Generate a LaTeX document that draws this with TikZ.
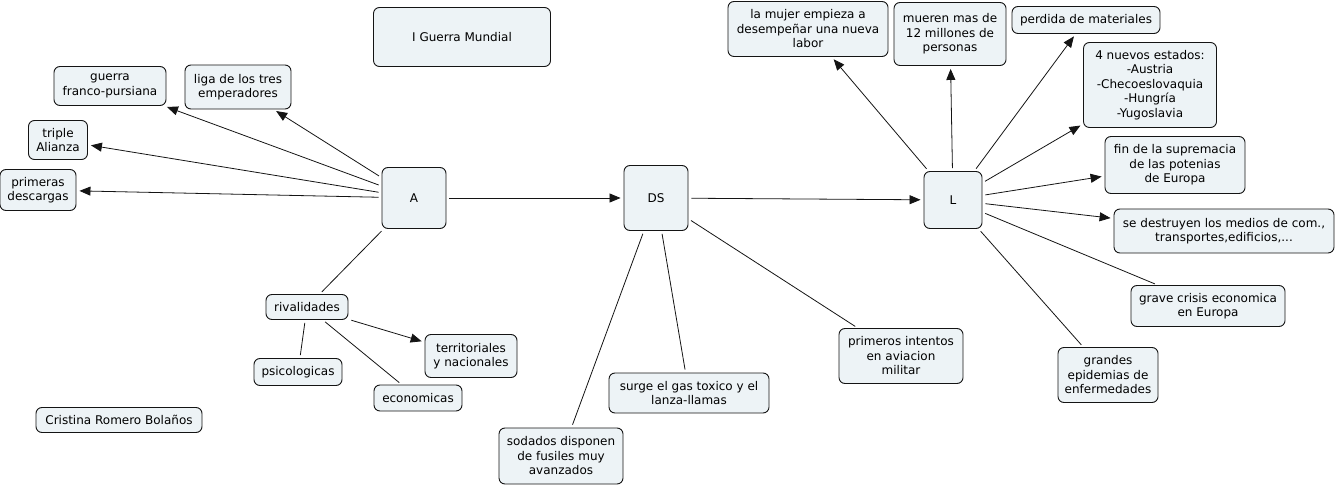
\documentclass[tikz,border=0pt]{standalone}
\usepackage{fontspec}
\setmainfont{DejaVu Sans}
\usepackage{xcolor}
\definecolor{concept-fill}{RGB}{237,243,246}
\definecolor{concept-line}{RGB}{20,20,20}
\usepackage{tikz}
\usetikzlibrary{arrows.meta}

\begin{document}
\begin{tikzpicture}[
    x=1pt, y=-1pt,
    concept/.style={
        draw=concept-line,
        line width=0.9pt,
        fill=concept-fill,
        rounded corners=6pt,
        inner sep=0pt,
        align=center,
        font=\fontsize{12}{14.5}\selectfont
    },
    link/.style={draw=concept-line, line width=0.8pt, shorten <=3pt, shorten >=3pt},
    linkarrow/.style={link, -{Triangle[length=11pt,width=9pt]}}
]

\useasboundingbox (0,0) rectangle (1337,486);

% Title and author
\node[concept, minimum width=177pt, minimum height=59pt] (title) at (462,37) {I Guerra Mundial};
\node[concept, minimum width=166pt, minimum height=25pt] (author) at (119,420) {Cristina Romero Bola\~nos};

% Main chain
\node[concept, minimum width=64pt, minimum height=61pt] (A) at (414,198) {A};
\node[concept, minimum width=64pt, minimum height=65pt] (DS) at (656,198) {DS};
\node[concept, minimum width=58pt, minimum height=57pt] (L) at (953,200) {L};

% Left branch
\node[concept, minimum width=112pt, minimum height=39pt] (guerra) at (110,86) {guerra\\franco-pursiana};
\node[concept, minimum width=106pt, minimum height=44pt] (liga) at (238,87) {liga de los tres\\emperadores};
\node[concept, minimum width=59pt, minimum height=39pt] (triple) at (58,140) {triple\\Alianza};
\node[concept, minimum width=76pt, minimum height=41pt] (descargas) at (38,190) {primeras\\descargas};

% Rivalidades
\node[concept, minimum width=82pt, minimum height=25pt] (rivalidades) at (307,307) {rivalidades};
\node[concept, minimum width=88pt, minimum height=27pt] (psico) at (298,372) {psicologicas};
\node[concept, minimum width=88pt, minimum height=26pt] (econ) at (418,398) {economicas};
\node[concept, minimum width=92pt, minimum height=43pt] (territ) at (471,356) {territoriales\\y nacionales};

% Below DS
\node[concept, minimum width=124pt, minimum height=56pt] (fusiles) at (561,456) {sodados disponen\\de fusiles muy\\avanzados};
\node[concept, minimum width=160pt, minimum height=40pt] (gas) at (689,393) {surge el gas toxico y el\\lanza-llamas};
\node[concept, minimum width=124pt, minimum height=55pt] (aviacion) at (901,356) {primeros intentos\\en aviacion\\militar};

% Consequences of L
\node[concept, minimum width=160pt, minimum height=55pt] (mujer) at (808,29) {la mujer empieza a\\desempe\~nar una nueva\\labor};
\node[concept, minimum width=112pt, minimum height=63pt] (muertos) at (950,34) {mueren mas de\\12 millones de\\personas};
\node[concept, minimum width=148pt, minimum height=27pt] (perdida) at (1086,20) {perdida de materiales};
\node[concept, minimum width=133pt, minimum height=85pt] (estados) at (1150,85) {4 nuevos estados:\\-Austria\\-Checoeslovaquia\\-Hungr\'ia\\-Yugoslavia};
\node[concept, minimum width=140pt, minimum height=57pt] (supremacia) at (1175,165) {fin de la supremacia\\de las potenias\\de Europa};
\node[concept, minimum width=220pt, minimum height=44pt] (medios) at (1224,231) {se destruyen los medios de com.,\\transportes,edificios,...};
\node[concept, minimum width=154pt, minimum height=41pt] (crisis) at (1208,306) {grave crisis economica\\en Europa};
\node[concept, minimum width=100pt, minimum height=55pt] (epidemias) at (1108,375) {grandes\\epidemias de\\enfermedades};

% Connectors
\draw[linkarrow] (A) -- (guerra);
\draw[linkarrow] (A) -- (liga);
\draw[linkarrow] (A) -- (triple);
\draw[linkarrow] (A) -- (descargas);
\draw[link] (A) -- (rivalidades);
\draw[link] (rivalidades) -- (psico);
\draw[link] (rivalidades) -- (econ);
\draw[linkarrow] (rivalidades) -- (territ);
\draw[linkarrow] (A) -- (DS);
\draw[link] (DS) -- (fusiles);
\draw[link] (DS) -- (gas);
\draw[link] (DS) -- (aviacion);
\draw[linkarrow] (DS) -- (L);
\draw[linkarrow] (L) -- (mujer);
\draw[linkarrow] (L) -- (muertos);
\draw[linkarrow] (L) -- (perdida);
\draw[linkarrow] (L) -- (estados);
\draw[linkarrow] (L) -- (supremacia);
\draw[linkarrow] (L) -- (medios);
\draw[link] (L) -- (crisis);
\draw[link] (L) -- (epidemias);

\end{tikzpicture}
\end{document}
